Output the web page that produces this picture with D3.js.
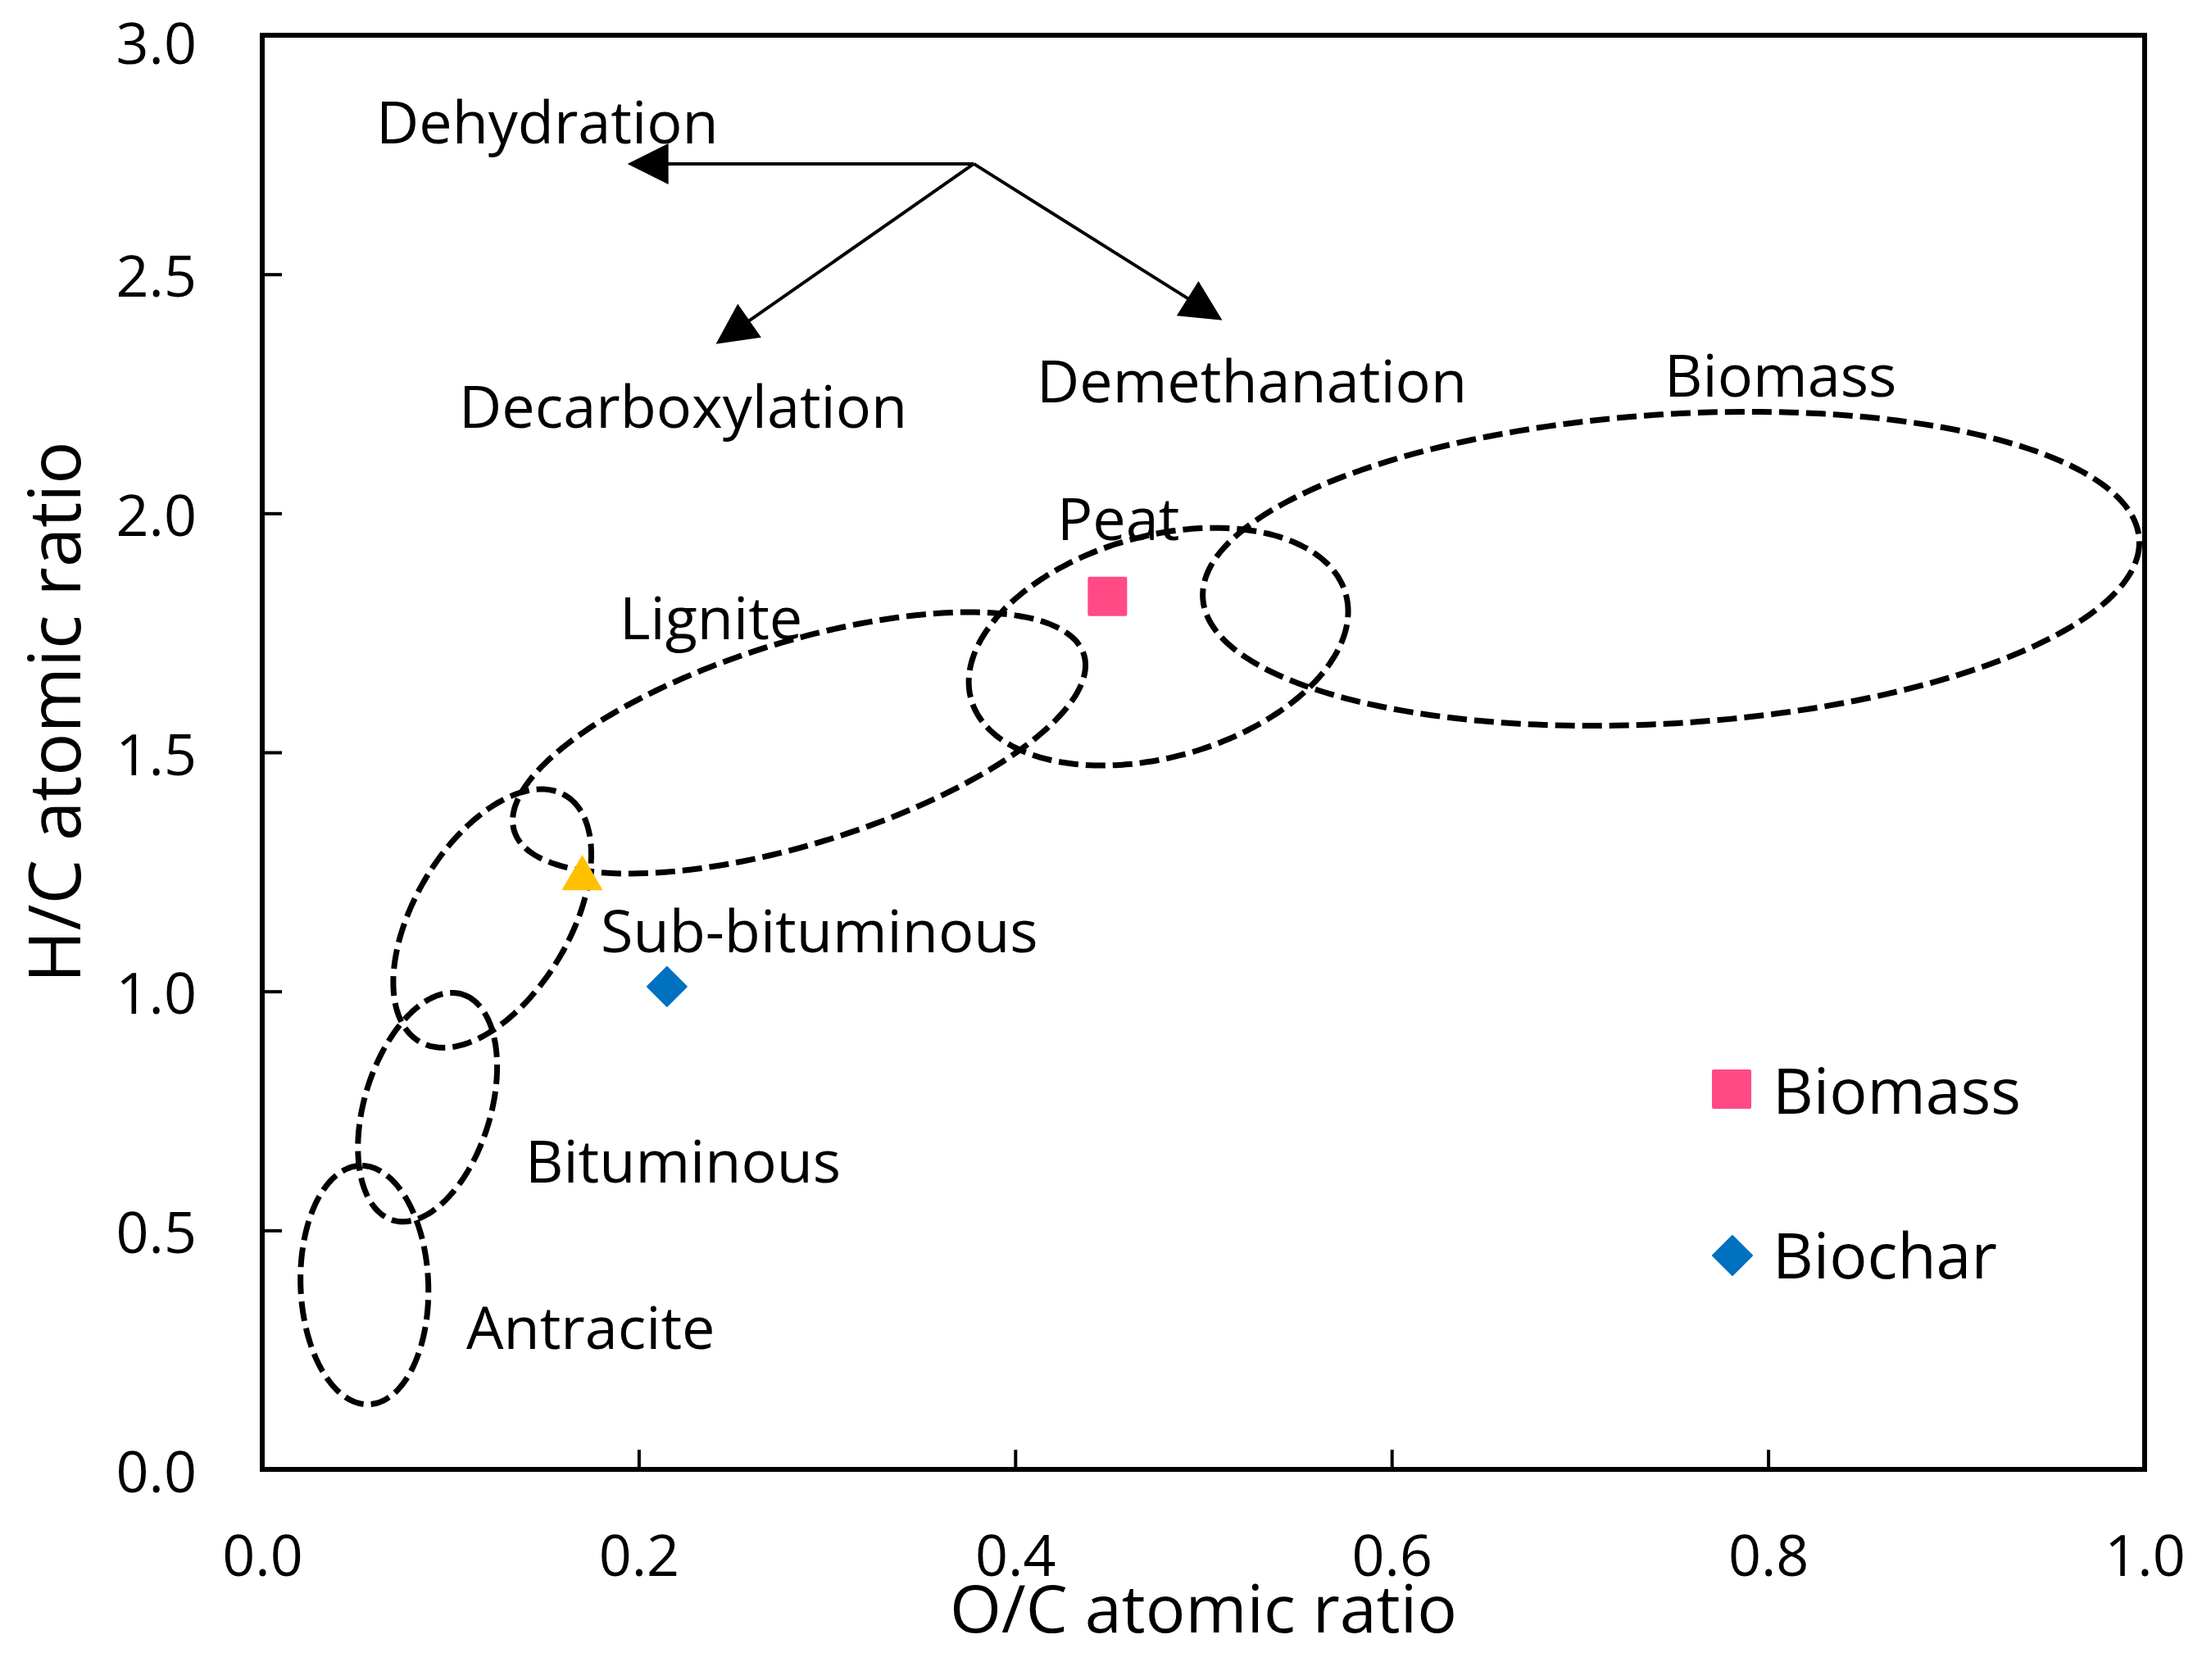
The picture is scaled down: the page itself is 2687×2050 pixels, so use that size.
<!DOCTYPE html>
<html><head><meta charset="utf-8">
<script src="https://cdn.jsdelivr.net/npm/d3@7"></script>
<style>
html,body{margin:0;padding:0;background:#fff;}
svg{display:block;}
text{font-family:"Open Sans",sans-serif;fill:#000;}
</style>
</head><body>
<svg id="chart" width="2687" height="2050"></svg>
<script>
// ---------------- data ----------------
const xTickValues = [0.0, 0.2, 0.4, 0.6, 0.8, 1.0];
const yTickValues = [0.0, 0.5, 1.0, 1.5, 2.0, 2.5, 3.0];
const xAxisTitle = "O/C atomic ratio";
const yAxisTitle = "H/C atomic ratio";

const legendNames = ["Biomass", "Biochar"];
const biomassPoints = [[0.449, 1.826]];
const biocharPoints = [[0.215, 1.010]];
const subBituminousPoints = [[0.170, 1.244]];

// Van Krevelen regions: centre, end of major half-axis, end of minor half-axis (O/C, H/C)
const regionNames   = ["Antracite", "Bituminous", "Sub-bituminous", "Lignite", "Peat", "Biomass"];
const regionCenters = [[0.0543, 0.3857], [0.0878, 0.7576], [0.1222, 1.1525], [0.2852, 1.5197], [0.4761, 1.7209], [0.7484, 1.8840]];
const regionMajor   = [[0.0520, 0.6353], [0.1063, 0.9938], [0.1610, 1.4098], [0.4365, 1.7042], [0.5756, 1.8311], [0.9971, 1.9457]];
const regionMinor   = [[0.0882, 0.3904], [0.1198, 0.7186], [0.1577, 1.0696], [0.3011, 1.3179], [0.4920, 1.4982], [0.7536, 1.5614]];
const regionLabelAt = [[0.1084, 0.300], [0.1397, 0.648], [0.1798, 1.130], [0.1898, 1.785], [0.4223, 1.992], [0.7449, 2.292]];

// reaction pathways
const pathwayNames   = ["Dehydration", "Decarboxylation", "Demethanation"];
const pathwayOrigin  = [0.378, 2.731];
const pathwayTips    = [[0.194, 2.731], [0.241, 2.354], [0.510, 2.404]];
const pathwayLabelAt = [[0.0605, 2.822], [0.1045, 2.227], [0.4114, 2.280]];

// ---------------- layout ----------------
const margin = {left: 320, right: 2687 - 2617, top: 43, bottom: 2050 - 1793};
const W = 2687, H = 2050;
const svg = d3.select("#chart");

const x = d3.scaleLinear().domain([0, 1]).range([margin.left, W - margin.right]);
const y = d3.scaleLinear().domain([0, 3]).range([H - margin.bottom, margin.top]);

// ticks (inside)
const tickLen = 24;
const xAxis = d3.axisBottom(x).tickValues(xTickValues).tickSize(-tickLen).tickFormat(d3.format(".1f")).tickPadding(0);
const yAxis = d3.axisLeft(y).tickValues(yTickValues).tickSize(-tickLen).tickFormat(d3.format(".1f")).tickPadding(0);

const gx = svg.append("g").attr("transform", `translate(0,${y(0)})`).call(xAxis);
gx.select(".domain").remove();
gx.selectAll(".tick line").attr("stroke", "#000").attr("stroke-width", 4)
  .filter(d => d === 0 || d === 1).remove();
gx.selectAll(".tick text").attr("y", 103).attr("dy", null).attr("dominant-baseline", "central")
  .style("font-size", "70px").style("font-family", '"Open Sans",sans-serif').attr("fill", "#000");

const gy = svg.append("g").attr("transform", `translate(${x(0)},0)`).call(yAxis);
gy.select(".domain").remove();
gy.selectAll(".tick line").attr("stroke", "#000").attr("stroke-width", 4)
  .filter(d => d === 0 || d === 3).remove();
gy.selectAll(".tick text").attr("x", -80).attr("dy", null).attr("dominant-baseline", "central")
  .attr("y", d => d === 3 ? 7 : 0)
  .attr("text-anchor", "end")
  .style("font-size", "70px").style("font-family", '"Open Sans",sans-serif').attr("fill", "#000");

// frame
svg.append("rect")
  .attr("x", x(0)).attr("y", y(3))
  .attr("width", x(1) - x(0)).attr("height", y(0) - y(3))
  .attr("fill", "none").attr("stroke", "#000").attr("stroke-width", 6);

// axis titles
svg.append("text").attr("x", (x(0) + x(1)) / 2).attr("y", 1960)
  .attr("text-anchor", "middle").attr("dominant-baseline", "central")
  .style("font-size", "81px").text(xAxisTitle);
svg.append("text").attr("transform", `translate(64,${869}) rotate(-90)`)
  .attr("text-anchor", "middle").attr("dominant-baseline", "central")
  .style("font-size", "87px").text(yAxisTitle);

// ellipses
function ellipsePath(c, m, n) {
  const cx = x(c[0]), cy = y(c[1]);
  const ax = x(m[0]) - cx, ay = y(m[1]) - cy;
  const bx = x(n[0]) - cx, by = y(n[1]) - cy;
  const pts = d3.range(0, 360, 2).map(t => {
    const r = t * Math.PI / 180;
    return [cx + Math.cos(r) * ax + Math.sin(r) * bx, cy + Math.cos(r) * ay + Math.sin(r) * by];
  });
  return d3.line().curve(d3.curveCardinalClosed)(pts);
}
svg.append("g").selectAll("path").data(regionNames).join("path")
  .attr("d", (d, i) => ellipsePath(regionCenters[i], regionMajor[i], regionMinor[i]))
  .attr("fill", "none").attr("stroke", "#000").attr("stroke-width", 7)
  .attr("stroke-dasharray", "24 9");

// region labels
svg.append("g").selectAll("text").data(regionNames).join("text")
  .attr("x", (d, i) => x(regionLabelAt[i][0]))
  .attr("y", (d, i) => y(regionLabelAt[i][1]))
  .attr("dominant-baseline", "central")
  .style("font-size", "72px").text(d => d);

// pathway arrows
const headLen = 50, headHalf = 25;
const ag = svg.append("g");
pathwayTips.forEach((tip, i) => {
  const ox = x(pathwayOrigin[0]), oy = y(pathwayOrigin[1]);
  const tx = x(tip[0]), ty = y(tip[1]);
  const dx = tx - ox, dy = ty - oy, L = Math.hypot(dx, dy);
  const ux = dx / L, uy = dy / L;
  const bx = tx - ux * headLen, by = ty - uy * headLen;
  ag.append("line").attr("x1", ox).attr("y1", oy).attr("x2", bx + ux * 4).attr("y2", by + uy * 4)
    .attr("stroke", "#000").attr("stroke-width", 4);
  ag.append("path")
    .attr("d", `M${tx},${ty}L${bx - uy * headHalf},${by + ux * headHalf}L${bx + uy * headHalf},${by - ux * headHalf}Z`)
    .attr("fill", "#000");
});
svg.append("g").selectAll("text").data(pathwayNames).join("text")
  .attr("x", (d, i) => x(pathwayLabelAt[i][0]))
  .attr("y", (d, i) => y(pathwayLabelAt[i][1]))
  .attr("dominant-baseline", "central")
  .style("font-size", "72px").text(d => d);

// markers
const mg = svg.append("g");
mg.selectAll("rect.biomass").data(biomassPoints).join("rect").attr("class", "biomass")
  .attr("x", d => x(d[0]) - 24).attr("y", d => y(d[1]) - 24)
  .attr("width", 48).attr("height", 48).attr("rx", 2).attr("fill", "#FF4A86");
mg.selectAll("path.biochar").data(biocharPoints).join("path").attr("class", "biochar")
  .attr("transform", d => `translate(${x(d[0])},${y(d[1])})`)
  .attr("d", "M0,-24L24,0L0,24L-24,0Z").attr("fill", "#0070C0")
  .attr("stroke", "#0070C0").attr("stroke-width", 2).attr("stroke-linejoin", "round");
mg.selectAll("path.subbit").data(subBituminousPoints).join("path").attr("class", "subbit")
  .attr("transform", d => `translate(${x(d[0])},${y(d[1])})`)
  .attr("d", "M0,-24L25,19L-25,19Z").attr("fill", "#FFC000");

// legend
const lg = svg.append("g");
lg.append("rect").attr("x", 2113 - 24).attr("y", 1329 - 24).attr("width", 48).attr("height", 48)
  .attr("rx", 2).attr("fill", "#FF4A86");
lg.append("path").attr("transform", "translate(2114,1532)")
  .attr("d", "M0,-24L24,0L0,24L-24,0Z").attr("fill", "#0070C0")
  .attr("stroke", "#0070C0").attr("stroke-width", 2).attr("stroke-linejoin", "round");
lg.selectAll("text").data(legendNames).join("text")
  .attr("x", 2163).attr("y", (d, i) => [1329, 1530][i])
  .attr("dominant-baseline", "central")
  .style("font-size", "77px").text(d => d);
</script>
</body></html>
